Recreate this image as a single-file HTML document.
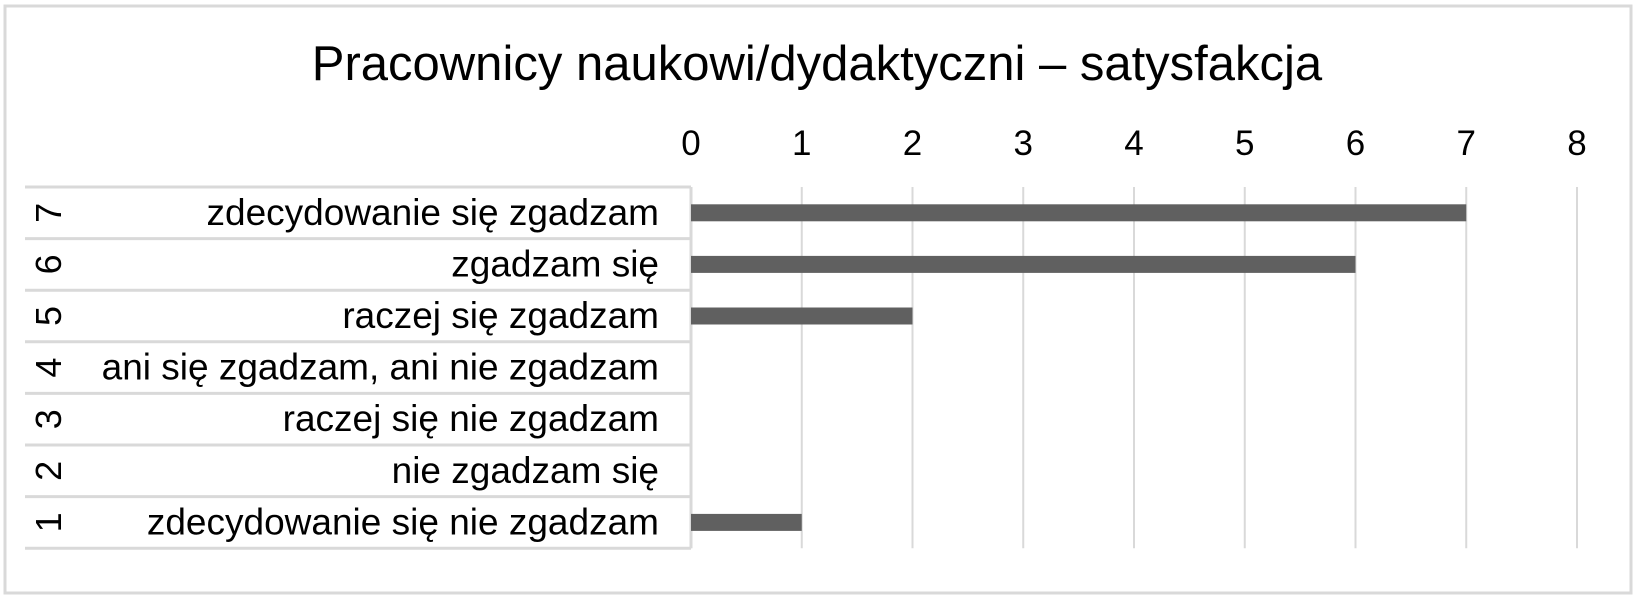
<!DOCTYPE html>
<html><head><meta charset="utf-8"><style>
html,body{margin:0;padding:0;background:#fff;}
svg{display:block;font-family:"Liberation Sans",sans-serif;}
</style></head><body>
<svg id="chart" width="1636" height="598" viewBox="0 0 1636 598">
  <rect x="5" y="6" width="1626" height="587" fill="#fff" stroke="#d9d9d9" stroke-width="3"/>
  <text x="817" y="80" font-size="49" text-anchor="middle" fill="#000">Pracownicy naukowi/dydaktyczni – satysfakcja</text>
  <g id="grid"></g>
  <g id="table"></g>
  <g id="bars"></g>
</svg>
<script>
const categories = ["zdecydowanie się nie zgadzam","nie zgadzam się","raczej się nie zgadzam","ani się zgadzam, ani nie zgadzam","raczej się zgadzam","zgadzam się","zdecydowanie się zgadzam"];
const codes = ["1","2","3","4","5","6","7"];
const values = [1,0,0,0,2,6,7];
const ticks = [0,1,2,3,4,5,6,7,8];

const NS = "http://www.w3.org/2000/svg";
const x0 = 691, unit = 110.75, plotTop = 187, bandH = 51.6, tableL = 25;
const xs = v => x0 + v * unit;
const rowTop = i => plotTop + (categories.length - 1 - i) * bandH;
function mk(tag, attrs, parent){const e=document.createElementNS(NS,tag);for(const k in attrs)e.setAttribute(k,attrs[k]);parent.appendChild(e);return e;}
const gridG=document.getElementById('grid'), tableG=document.getElementById('table'), barsG=document.getElementById('bars');
const plotBottom = plotTop + bandH * categories.length;

ticks.forEach(t=>{
  const l=mk('line',{x1:xs(t),x2:xs(t),y1:plotTop,y2:plotBottom,stroke:'#d9d9d9','stroke-width':2},gridG);
  
  
  const tx=mk('text',{x:xs(t),y:155,'font-size':35,'text-anchor':'middle',fill:'#000'},gridG);
  tx.textContent=String(t);
  
  
});

for(let i=0;i<=categories.length;i++){
  const y=plotTop+i*bandH;
  const l=mk('line',{x1:tableL,x2:x0,y1:y,y2:y,stroke:'#d9d9d9','stroke-width':3},tableG);
  
  
}
const vl=mk('line',{x1:x0,x2:x0,y1:plotTop,y2:plotBottom,stroke:'#d9d9d9','stroke-width':3},tableG);



categories.forEach((c,i)=>{
  const yt=rowTop(i), yc=yt+bandH/2;
  const lab=mk('text',{x:659,y:yc+12,'font-size':37,'text-anchor':'end',fill:'#000'},tableG);
  lab.textContent=c;
  
  
  const cd=mk('text',{x:0,y:0,'font-size':36,'text-anchor':'middle',fill:'#000',transform:`translate(61,${yc}) rotate(-90)`},tableG);
  cd.textContent=codes[i];
  
  
  if(values[i]>0){
    const b=mk('rect',{x:xs(0),y:yc-8.5,width:xs(values[i])-xs(0),height:17,fill:'#606060'},barsG);
    
    
  }
});
</script>
</body></html>
